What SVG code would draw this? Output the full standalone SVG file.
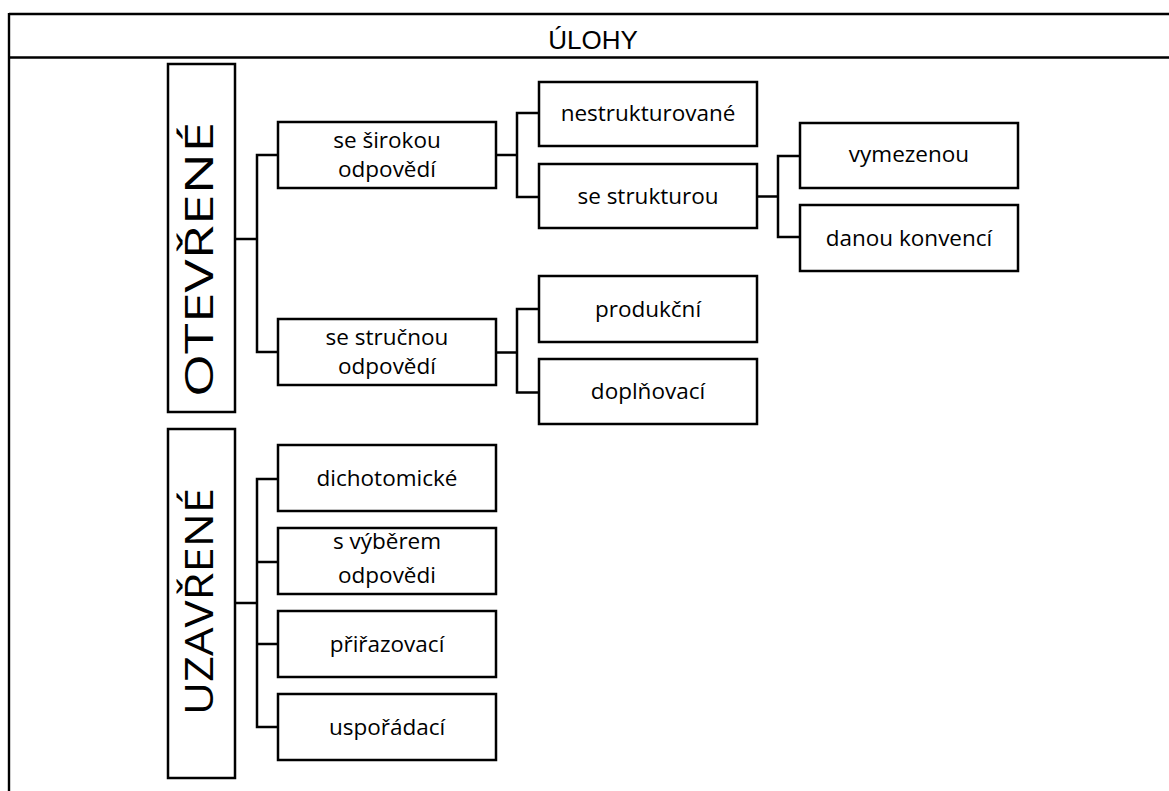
<svg xmlns="http://www.w3.org/2000/svg" width="1169" height="791" viewBox="0 0 1169 791">
<style>
.box{fill:#fff;stroke:#000;stroke-width:2.5}
.lbl{font-family:"Open Sans","Noto Sans",sans-serif;font-size:22.5px;fill:#000;text-anchor:middle}
.big{font-family:"Open Sans","Noto Sans",sans-serif;font-size:39px;fill:#000;text-anchor:middle}
.title{font-family:"Liberation Sans",Arial,sans-serif;font-size:26px;fill:#000;text-anchor:middle}
.con{fill:none;stroke:#000;stroke-width:2.5}
.frame{fill:none;stroke:#000;stroke-width:2.4}
</style>
<rect width="1169" height="791" fill="#fff"/>
<g id="frame">
<path class="frame" d="M9,14 H1175 M9,57.5 H1175 M9,13 V800"/>
<text class="title" x="593" y="49">ÚLOHY</text>
</g>
<g id="connectors">
<path class="con" d="M235,239 H257 M278,155 H257 V352 H278"/>
<path class="con" d="M496,155 H517 M539,113 H517 V197 H539"/>
<path class="con" d="M757,196.5 H778 M800,156 H778 V237 H800"/>
<path class="con" d="M496,352.5 H517 M539,309 H517 V392.5 H539"/>
<path class="con" d="M235,603 H257 M278,479 H257 V727 H278 M257,562 H278 M257,644 H278"/>
</g>
<g id="otevrene">
<rect class="box" x="168" y="64" width="67" height="348"/>
<text class="big" transform="translate(213,259.5) rotate(-90)" textLength="275" lengthAdjust="spacingAndGlyphs">OTEVŘENÉ</text>
</g>
<g id="uzavrene">
<rect class="box" x="168" y="429" width="67" height="349"/>
<text class="big" transform="translate(213,601.5) rotate(-90)" textLength="227" lengthAdjust="spacingAndGlyphs">UZAVŘENÉ</text>
</g>
<g id="siroka">
<rect class="box" x="278" y="122" width="218" height="66"/>
<text class="lbl" x="387" y="148">se širokou</text>
<text class="lbl" x="387" y="176.5">odpovědí</text>
</g>
<g id="strucna">
<rect class="box" x="278" y="319" width="218" height="66"/>
<text class="lbl" x="387" y="345">se stručnou</text>
<text class="lbl" x="387" y="373.5">odpovědí</text>
</g>
<g id="nestrukturovane">
<rect class="box" x="539" y="82" width="218" height="64"/>
<text class="lbl" x="648" y="121">nestrukturované</text>
</g>
<g id="sestrukturou">
<rect class="box" x="539" y="164" width="218" height="64"/>
<text class="lbl" x="648" y="204">se strukturou</text>
</g>
<g id="vymezenou">
<rect class="box" x="800" y="123" width="218" height="65"/>
<text class="lbl" x="909" y="162">vymezenou</text>
</g>
<g id="danou">
<rect class="box" x="800" y="205" width="218" height="66"/>
<text class="lbl" x="909" y="245.5">danou konvencí</text>
</g>
<g id="produkcni">
<rect class="box" x="539" y="276" width="218" height="66"/>
<text class="lbl" x="648" y="316.5">produkční</text>
</g>
<g id="doplnovaci">
<rect class="box" x="539" y="359" width="218" height="65"/>
<text class="lbl" x="648" y="399">doplňovací</text>
</g>
<g id="dichotomicke">
<rect class="box" x="278" y="445" width="218" height="66"/>
<text class="lbl" x="387" y="486">dichotomické</text>
</g>
<g id="vyber">
<rect class="box" x="278" y="528" width="218" height="66"/>
<text class="lbl" x="387" y="549">s výběrem</text>
<text class="lbl" x="387" y="582.5">odpovědi</text>
</g>
<g id="prirazovaci">
<rect class="box" x="278" y="611" width="218" height="66"/>
<text class="lbl" x="387" y="651.5">přiřazovací</text>
</g>
<g id="usporadaci">
<rect class="box" x="278" y="694" width="218" height="66"/>
<text class="lbl" x="387" y="735">uspořádací</text>
</g>
</svg>
